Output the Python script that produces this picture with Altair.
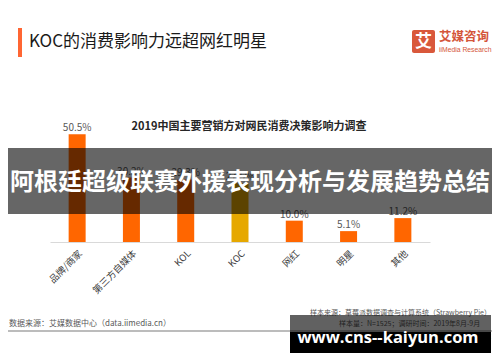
import altair as alt
import pandas as pd

categories = ["品牌/商家", "第三方自媒体", "KOL", "KOC", "网红", "明星", "其他"]
values = [50.5, 30.2, 29.3, 27.5, 10.0, 5.1, 11.2]
groups = ["常规", "常规", "常规", "重点", "常规", "常规", "常规"]

df = pd.DataFrame({"cat": categories, "val": values, "grp": groups})
df["label"] = [f"{v:.1f}%" for v in values]

FONT = "Noto Sans CJK SC"
one = pd.DataFrame({"k": [0]})

x = alt.X(
    "cat:N",
    sort=categories,
    scale=alt.Scale(paddingInner=0, paddingOuter=0),
    axis=alt.Axis(
        title=None, labelAngle=-45, labelFont=FONT, labelFontSize=9.5,
        labelColor="#404040", ticks=False, domainColor="#d9d9d9",
        labelPadding=6, labelAlign="right", labelBaseline="top",
    ),
)
y = alt.Y("val:Q", scale=alt.Scale(domain=[0, 60]), axis=None)

base = alt.Chart(df)
bars = base.mark_bar(size=17).encode(
    x=x, y=y,
    color=alt.Color("grp:N", scale=alt.Scale(domain=["常规", "重点"], range=["#FF6600", "#E6A800"]), legend=None),
)
labels = base.mark_text(dy=-6, font=FONT, fontSize=10, color="#595959").encode(x=x, y=y, text="label")


def txt(s, px, py, **kw):
    return alt.Chart(one).mark_text(text=s, font=kw.pop("font", FONT), **kw).encode(
        x=alt.value(px), y=alt.value(py))


def box(x1, x2, y1, y2, **kw):
    return alt.Chart(one).mark_rect(**kw).encode(
        x=alt.value(x1), x2=alt.value(x2), y=alt.value(y1), y2=alt.value(y2))


chart_title = txt("2019中国主要营销方对网民消费决策影响力调查", 199, 13, fontSize=11,
                  fontWeight="bold", color="#262626", align="center", baseline="middle")
red_bar = box(-32, -28, -86, -57, color="#FF6633")
head = txt("KOC的消费影响力远超网红明星", -21, -72, fontSize=17, color="#1a1a1a",
           align="left", baseline="middle")
logo_sq = box(362, 385, -84, -61, color="#D9583B", cornerRadius=2)
logo_ch = txt("艾", 373.5, -72.5, fontSize=17, fontWeight="bold", color="white",
              align="center", baseline="middle")
logo_cn = txt("艾媒咨询", 389, -77, fontSize=12.5, fontWeight="bold", color="#D4553A",
              align="left", baseline="middle")
logo_en = txt("iiMedia Research", 389, -64.5, fontSize=6.8, color="#D4553A",
              align="left", baseline="middle", font="Liberation Sans")

foot_line = alt.Chart(one).mark_rule(color="#a6a6a6", strokeWidth=1.5).encode(
    x=alt.value(-42), x2=alt.value(442), y=alt.value(217))
foot_l = txt("数据来源：艾媒数据中心（data.iimedia.cn）", -41, 210, fontSize=8, color="#595959",
             align="left", baseline="middle")
foot_r1 = txt("样本来源：草莓派数据调查与计算系统（Strawberry Pie）", 441, 199, fontSize=7,
              color="#595959", align="right", baseline="middle")
foot_r2 = txt("样本量：N=1525；调研时间：2019年8月-9月", 289, 210, fontSize=7,
              color="#595959", align="left", baseline="middle")
foot_c = txt("© 艾媒咨询 2019 iiMedia Research Inc", 441, 223, fontSize=8, color="#595959",
             align="right", baseline="middle")

band = box(-50, 450, 34, 100, color="black", opacity=0.6)
band_txt = txt("阿根廷超级联赛外援表现分析与发展趋势总结", 200, 69, fontSize=24,
               fontWeight="bold", color="white", align="center", baseline="middle")

wm_gray = box(240, 441, 201, 218, color="black", opacity=0.62)
wm_black = box(240, 441, 218, 239, color="black")
wm_txt = txt("www.cns--kaiyun.com", 338, 224, fontSize=16.5, fontWeight="bold", color="white",
             align="center", baseline="middle", font="Open Sans")

chart = alt.layer(
    bars, labels, chart_title, red_bar, head, logo_sq, logo_ch, logo_cn, logo_en,
    foot_line, foot_l, foot_r1, foot_r2, foot_c,
    band, band_txt, wm_gray, wm_black, wm_txt,
).properties(
    width=380, height=128,
    padding={"left": 42, "top": 106, "right": 62, "bottom": 112},
    autosize=alt.AutoSizeParams(type="none"),
    background="white",
).configure_view(stroke=None)

chart.save("out.html", embed_options={"renderer": "svg", "actions": False})
